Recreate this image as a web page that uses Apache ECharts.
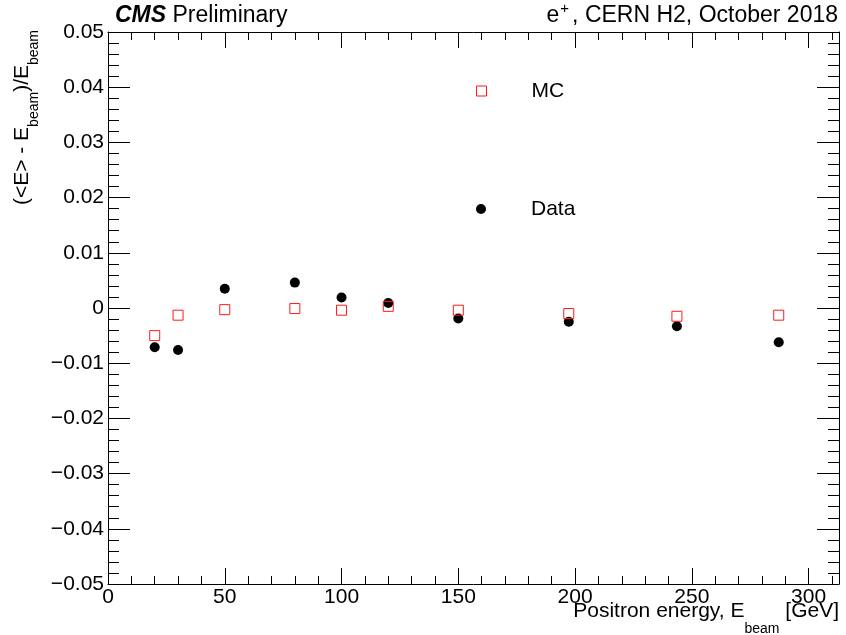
<!DOCTYPE html>
<html>
<head>
<meta charset="utf-8">
<script src="https://cdn.jsdelivr.net/npm/echarts@6/dist/echarts.min.js"></script>
<style>html,body{margin:0;padding:0;background:#fff;}#c{width:846px;height:635px;}</style>
</head>
<body>
<div id="c"></div>
<script>
// ---- data ----
const beamEnergies = [20, 30, 50, 80, 100, 120, 150, 197.3, 243.6, 287.2];
const dataValues = [-0.0071, -0.0076, 0.0035, 0.0046, 0.0019, 0.0009, -0.0019, -0.0025, -0.0033, -0.0062];
const mcValues = [-0.0050, -0.0013, -0.0003, -0.0001, -0.0004, 0.0003, -0.0004, -0.0010, -0.0015, -0.0013];
const xMajorTicks = [0, 50, 100, 150, 200, 250, 300];
const xMinorTicks = [10, 20, 30, 40, 60, 70, 80, 90, 110, 120, 130, 140, 160, 170, 180, 190, 210, 220, 230, 240, 260, 270, 280, 290, 310];
const seriesNames = ['MC', 'Data'];

const F = "'Liberation Sans', Arial, Helvetica, sans-serif";
const X_MIN = 0, X_MAX = 313, Y_MIN = -0.05, Y_MAX = 0.05;

function pairs(xs, ys) { return xs.map((x, i) => [x, ys[i]]); }
function yFmt(v) {
  const r = Math.round(v * 100) / 100;
  if (r === 0) return '0';
  return (r < 0 ? '\u2212' : '') + Math.abs(r).toFixed(2);
}

const blackLine = { color: '#000', width: 1 };
function xAxisDef(pos, ticks, len, labels, showLine) {
  return {
    type: 'value', position: pos, min: X_MIN, max: X_MAX,
    axisLine: { show: showLine, onZero: false, lineStyle: blackLine },
    axisTick: { show: true, inside: true, length: len, customValues: ticks, lineStyle: blackLine },
    axisLabel: labels ? { show: true, customValues: ticks, fontSize: 21, fontFamily: F, color: '#000', margin: 3 } : { show: false },
    splitLine: { show: false }, minorTick: { show: false }
  };
}
function yAxisDef(pos, labels) {
  return {
    type: 'value', position: pos, min: Y_MIN, max: Y_MAX, interval: 0.01,
    axisLine: { show: true, onZero: false, lineStyle: blackLine },
    axisTick: { show: true, inside: true, length: 22, lineStyle: blackLine },
    minorTick: { show: true, splitNumber: 5, length: 11, lineStyle: blackLine },
    axisLabel: labels ? { show: true, formatter: yFmt, fontSize: 21, fontFamily: F, color: '#000', margin: 4 } : { show: false },
    splitLine: { show: false }
  };
}

const chart = echarts.init(document.getElementById('c'), null, { renderer: 'canvas' });
chart.setOption({
  animation: false,
  backgroundColor: '#fff',
  grid: { left: 108, right: 7, top: 32, bottom: 51, containLabel: false, outerBoundsMode: 'none' },
  xAxis: [
    xAxisDef('bottom', xMajorTicks, 16, true, true),
    xAxisDef('bottom', xMinorTicks, 8, false, false),
    xAxisDef('top', xMajorTicks, 16, false, true),
    xAxisDef('top', xMinorTicks, 8, false, false)
  ],
  yAxis: [yAxisDef('left', true), yAxisDef('right', false)],
  legend: [
    { data: [{ name: seriesNames[0], itemStyle: { borderWidth: 1 } }], orient: 'vertical', left: 476, top: 79, padding: 0, itemWidth: 10, itemHeight: 10,
      textStyle: { fontSize: 21, fontFamily: F, color: '#000', lineHeight: 24, padding: [0, 0, 0, 40] } },
    { data: [seriesNames[1]], orient: 'vertical', left: 476, top: 197, padding: 0, itemWidth: 10, itemHeight: 10,
      textStyle: { fontSize: 21, fontFamily: F, color: '#000', lineHeight: 24, padding: [0, 0, 0, 40] } }
  ],
  series: [
    { name: seriesNames[1], type: 'scatter', xAxisIndex: 0, yAxisIndex: 0, symbol: 'circle', symbolSize: 10,
      itemStyle: { color: '#000', opacity: 1 }, data: pairs(beamEnergies, dataValues), z: 2 },
    { name: seriesNames[0], type: 'scatter', xAxisIndex: 0, yAxisIndex: 0, symbol: 'rect', symbolSize: 10,
      itemStyle: { color: 'rgba(255,255,255,0)', borderColor: '#ff1a1a', borderWidth: 1, opacity: 1 },
      data: pairs(beamEnergies, mcValues), z: 3 }
  ],
  graphic: [
    { type: 'text', x: 115, y: 4, silent: true,
      style: { text: '{b|CMS} {r|Preliminary}', font: '23px ' + F, fill: '#000', verticalAlign: 'top',
        rich: { b: { fontSize: 23, fontWeight: 'bold', fontStyle: 'italic', fontFamily: F, lineHeight: 23, fill: '#000' },
                r: { fontSize: 23, fontFamily: F, lineHeight: 23, fill: '#000' } } } },
    { type: 'text', x: 838, y: 1, silent: true,
      style: { text: '{n|e}{p|+}{n|, CERN H2, October 2018}', align: 'right', verticalAlign: 'top', fill: '#000', font: '23px ' + F,
        rich: { n: { fontSize: 23, fontFamily: F, lineHeight: 23, verticalAlign: 'top', padding: [3, 0, 0, 0], fill: '#000' },
                p: { fontSize: 15, fontFamily: F, lineHeight: 15, verticalAlign: 'top', padding: [0, 3, 0, 1], fill: '#000' } } } },
    { type: 'text', x: 839, y: 601, silent: true,
      style: { text: '{a|Positron energy, E}{s|beam}{a| [GeV]}', align: 'right', verticalAlign: 'top', fill: '#000', font: '21px ' + F,
        rich: { a: { fontSize: 21, fontFamily: F, lineHeight: 21, verticalAlign: 'top', fill: '#000' },
                s: { fontSize: 14, fontFamily: F, lineHeight: 14, verticalAlign: 'top', padding: [21, 0, 0, 0], fill: '#000' } } } },
    { type: 'text', x: 12, y: 30, rotation: Math.PI / 2, silent: true,
      style: { text: '{a|(<E> - E}{s|beam}{a|)/E}{s|beam}', align: 'right', verticalAlign: 'top', fill: '#000', font: '21px ' + F,
        rich: { a: { fontSize: 21, fontFamily: F, lineHeight: 21, verticalAlign: 'top', fill: '#000' },
                s: { fontSize: 14, fontFamily: F, lineHeight: 14, verticalAlign: 'top', padding: [15, 0, 0, 0], fill: '#000' } } } }
  ]
});
</script>
</body>
</html>
